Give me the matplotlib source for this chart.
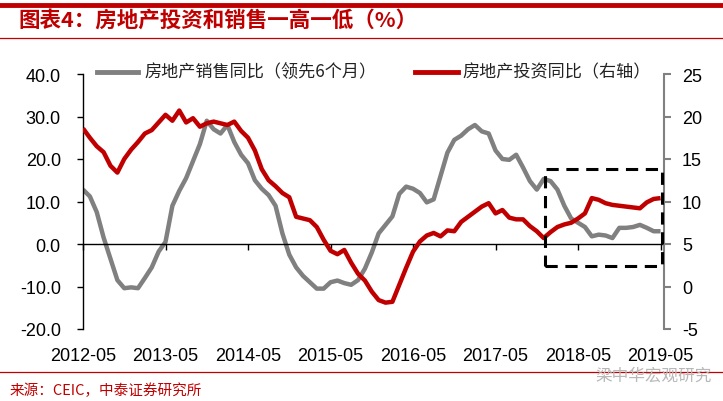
import matplotlib
matplotlib.use("Agg")
import matplotlib.pyplot as plt
from matplotlib.lines import Line2D
from matplotlib.patches import Rectangle

plt.rcParams['font.family'] = ['Liberation Sans', 'Noto Sans CJK SC', 'DejaVu Sans']

# ---- data (monthly, starting 2012-05) ----
sales_yoy_lead6 = [12.8, 11.2, 7.5, 1.5, -3.5, -8.5, -10.4, -10.2, -10.4, -8.0,
                   -5.5, -1.8, 0.5, 9.0, 12.5, 15.5, 19.5, 23.5, 29.0, 27.0,
                   26.0, 28.0, 24.0, 21.0, 19.0, 15.0, 13.0, 11.5, 9.0, 2.5,
                   -2.5, -5.5, -7.5, -9.0, -10.5, -10.5, -9.0, -8.6, -9.2, -9.6,
                   -8.5, -5.8, -2.0, 2.5, 4.5, 6.5, 11.8, 13.5, 13.0, 12.0,
                   9.8, 10.5, 16.0, 21.5, 24.5, 25.5, 27.0, 28.0, 26.5, 26.0,
                   22.0, 20.0, 19.8, 21.0, 18.0, 14.8, 12.8, 15.3, 14.8, 12.8,
                   9.0, 6.0, 5.0, 4.0, 1.8, 2.2, 2.0, 1.4, 3.8, 3.8,
                   4.0, 4.5, 3.8, 3.0, 3.0]
invest_yoy = [18.6, 17.5, 16.5, 15.8, 14.2, 13.4, 15.0, 16.1, 17.0, 18.0,
              18.4, 19.3, 20.2, 19.5, 20.7, 19.3, 19.8, 18.8, 19.2, 19.4,
              19.2, 19.0, 19.4, 18.3, 17.5, 16.0, 13.8, 12.5, 11.8, 11.0,
              10.5, 8.2, 8.0, 7.8, 7.0, 5.5, 4.2, 3.8, 4.3, 2.8,
              1.5, 0.7, -0.6, -1.6, -1.9, -1.8, 0.2, 2.2, 4.1, 5.3,
              6.0, 6.3, 5.9, 6.6, 6.5, 7.6, 8.2, 8.8, 9.4, 9.8,
              8.6, 9.0, 8.1, 7.9, 7.9, 7.1, 6.5, 5.7, 6.4, 7.0,
              7.3, 7.5, 8.0, 8.6, 10.4, 10.2, 9.8, 9.6, 9.5, 9.4,
              9.3, 9.2, 9.9, 10.3, 10.4]
months = list(range(len(invest_yoy)))
x_tick_pos = [0, 12, 24, 36, 48, 60, 72, 84]
x_tick_labels = ['2012-05', '2013-05', '2014-05', '2015-05',
                 '2016-05', '2017-05', '2018-05', '2019-05']
left_ticks = [40, 30, 20, 10, 0, -10, -20]
right_ticks = [25, 20, 15, 10, 5, 0, -5]
sales_label = '房地产销售同比（领先6个月）'
invest_label = '房地产投资同比（右轴）'
title_text = '图表4：房地产投资和销售一高一低（%）'
source_text = '来源：CEIC，中泰证券研究所'
watermark = '梁中华宏观研究'
box_x = (67.2, 84.2)
box_y = (2.4, 13.8)

RED = '#C00000'
GRAY = '#808080'

W, H = 723, 402
fig = plt.figure(figsize=(W / 100, H / 100), dpi=100)
ax = fig.add_axes([83 / W, 1 - 330 / H, (664 - 83) / W, (330 - 75) / H])
ax2 = ax.twinx()

ax.plot(months, sales_yoy_lead6, color=GRAY, lw=3.2, solid_capstyle='butt',
        solid_joinstyle='round', zorder=2)
ax2.plot(months, invest_yoy, color=RED, lw=3.2, solid_capstyle='butt',
         solid_joinstyle='round', zorder=3)

ax.set_xlim(0, 84.5)
ax.set_ylim(-20, 40)
ax2.set_ylim(-5, 25)

ax.set_yticks(left_ticks)
ax.set_yticklabels([f'{v:.1f}' for v in left_ticks])
ax2.set_yticks(right_ticks)
ax2.set_yticklabels([str(v) for v in right_ticks])
ax.set_xticks(x_tick_pos)
ax.set_xticklabels(x_tick_labels)

for a in (ax, ax2):
    a.spines['top'].set_visible(False)
ax.spines['right'].set_visible(False)
ax2.spines['left'].set_visible(False)
ax2.spines['bottom'].set_visible(False)
ax.spines['bottom'].set_position(('data', 0))
ax.spines['bottom'].set_color('black')
ax.spines['bottom'].set_linewidth(1.0)
ax.spines['left'].set_color('black')
ax.spines['left'].set_linewidth(1.0)
ax2.spines['right'].set_color(GRAY)
ax2.spines['right'].set_linewidth(1.5)

ax.tick_params(axis='x', direction='out', length=4, width=1, pad=70,
               labelsize=13, colors='black')
ax.tick_params(axis='y', direction='out', length=4, width=1, pad=12,
               labelsize=13)
ax2.tick_params(axis='y', direction='out', length=5, width=1.5, color=GRAY,
                labelcolor='black', pad=8, labelsize=13)

ax2.add_patch(Rectangle((box_x[0], box_y[0]), box_x[1] - box_x[0], box_y[1] - box_y[0],
                        fill=False, edgecolor='black', lw=2.2, ls=(0, (4, 2.5)),
                        zorder=4, clip_on=False))

# legend (manual)
cjk = ['Noto Sans CJK SC', 'DejaVu Sans']
fig.add_artist(Line2D([97 / W, 138 / W], [1 - 72.5 / H] * 2, color=GRAY, lw=3.5))
fig.text(144 / W, 1 - 72.5 / H, sales_label, fontsize=12.3, family=cjk,
         va='center', ha='left', color='#222222')
fig.add_artist(Line2D([415 / W, 458 / W], [1 - 72.5 / H] * 2, color=RED, lw=3.5))
fig.text(462 / W, 1 - 72.5 / H, invest_label, fontsize=12.3, family=cjk,
         va='center', ha='left', color='#222222')

# decorations
fig.add_artist(Line2D([0, 1], [1 - 5.5 / H] * 2, color=RED, lw=3.5))
fig.add_artist(Line2D([0, 1], [1 - 38.5 / H] * 2, color=RED, lw=0.9))
fig.add_artist(Line2D([0, 1], [1 - 373 / H] * 2, color=RED, lw=0.9))
fig.text(18 / W, 1 - 20 / H, title_text, fontsize=15.5, family=cjk,
         fontweight='bold', color=RED, va='center', ha='left')
fig.text(10 / W, 1 - 391 / H, source_text, fontsize=10.5, family=cjk,
         color=RED, va='center', ha='left')
fig.text(712 / W, 1 - 376 / H, watermark, fontsize=12, family=cjk,
         color='#b8b8b8', va='center', ha='right')

fig.savefig('out.png', dpi=100)
